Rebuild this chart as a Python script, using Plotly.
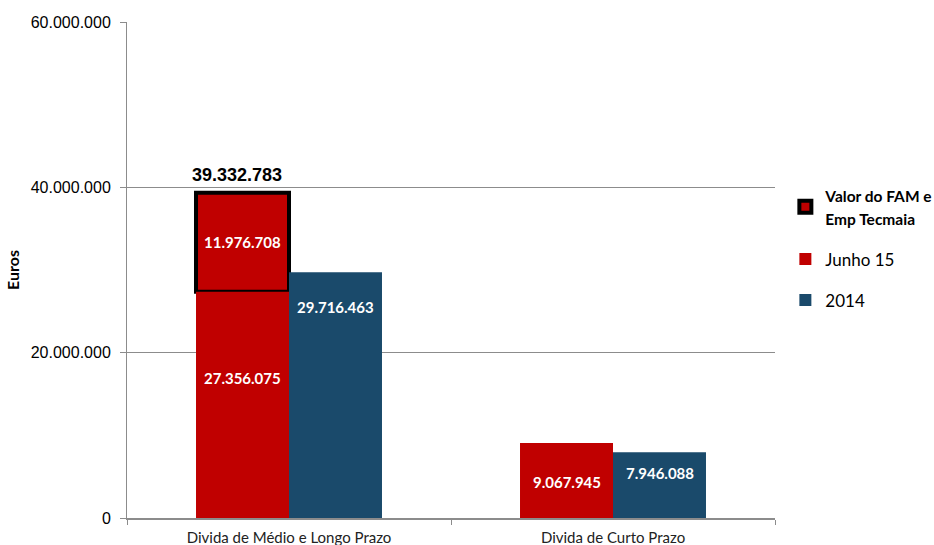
import plotly.graph_objects as go

categories = ["Divida de Médio e Longo Prazo", "Divida de Curto Prazo"]
junho15 = [27356075, 9067945]
fam_tecmaia = [11976708]          # only first category
y2014 = [29716463, 7946088]
y_ticks = [0, 20000000, 40000000, 60000000]

RED = "#C00000"
BLUE = "#1A4A6B"

def fmt(v):
    return f"{v:,}".replace(",", ".")

fig = go.Figure()
fig.add_trace(go.Bar(
    x=categories[:1], y=fam_tecmaia, base=junho15[:1], offsetgroup="a",
    name="<span style='font-size:15.5px'><b>Valor do FAM e<br>Emp Tecmaia</b></span>", legendgroup="g1",
    marker=dict(color=RED, line=dict(color="black", width=4)),
    legendrank=1, hoverinfo="skip",
))
fig.add_trace(go.Bar(
    x=categories, y=junho15, offsetgroup="a", name="Junho 15", legendgroup="g2",
    marker=dict(color=RED, line=dict(width=0)), legendrank=2,
))
fig.add_trace(go.Bar(
    x=categories, y=y2014, offsetgroup="b", name="2014", legendgroup="g3",
    marker=dict(color=BLUE, line=dict(width=0)), legendrank=3,
))

# bar geometry in pixels (plot width 648, 2 categories, bargap 0.426)
half = 46.5
lbl_font = dict(family="Lato", size=15, color="white")
anns = []
anns.append(dict(x=categories[0], y=junho15[0] * 0.62, text=f"<b>{fmt(junho15[0])}</b>", xshift=-half))
anns.append(dict(x=categories[1], y=junho15[1] * 0.48, text=f"<b>{fmt(junho15[1])}</b>", xshift=-half))
anns.append(dict(x=categories[0], y=junho15[0] + fam_tecmaia[0] * 0.5, text=f"<b>{fmt(fam_tecmaia[0])}</b>", xshift=-half))
anns.append(dict(x=categories[0], y=y2014[0] * 0.86, text=f"<b>{fmt(y2014[0])}</b>", xshift=half))
anns.append(dict(x=categories[1], y=y2014[1] * 0.685, text=f"<b>{fmt(y2014[1])}</b>", xshift=half))
for a in anns:
    a.update(showarrow=False, font=lbl_font, xref="x", yref="y")
total = junho15[0] + fam_tecmaia[0]
anns.append(dict(x=categories[0], y=total, text=f"<b>{fmt(total)}</b>", xshift=-half - 6,
                 yshift=18, showarrow=False, xref="x", yref="y",
                 font=dict(family="Liberation Sans", size=18, color="black")))

fig.update_layout(
    width=934, height=545,
    margin=dict(l=127, r=159, t=22, b=27, autoexpand=False),
    paper_bgcolor="white", plot_bgcolor="white",
    barmode="group", bargap=0.426, bargroupgap=0,
    separators=",.",
    annotations=anns,
    showlegend=True,
    legend=dict(x=1.016, y=0.685, xanchor="left", yanchor="top",
                font=dict(family="Lato", size=17, color="black"),
                tracegroupgap=16, itemwidth=30, bgcolor="rgba(0,0,0,0)"),
    xaxis=dict(
        type="category", tickson="boundaries", ticks="outside", ticklen=5,
        tickcolor="#8c8c8c", showline=True, linecolor="#8c8c8c", linewidth=2,
        showgrid=False, tickfont=dict(family="Lato", size=15, color="#222"),
        ticklabelstandoff=5,
        range=[-0.5, 1.5],
    ),
    yaxis=dict(
        range=[0, 60000000], tickvals=y_ticks, tickformat=",d",
        ticks="outside", ticklen=6, tickcolor="#8c8c8c", ticklabelstandoff=6,
        showline=True, linecolor="#8c8c8c", linewidth=1,
        showgrid=True, gridcolor="#8c8c8c", gridwidth=1,
        zeroline=False,
        tickfont=dict(family="Liberation Sans", size=16, color="black"),
        title=dict(text="<b>Euros</b>", font=dict(family="Lato", size=16, color="black"), standoff=7),
    ),
)

fig.write_html("out.html")
